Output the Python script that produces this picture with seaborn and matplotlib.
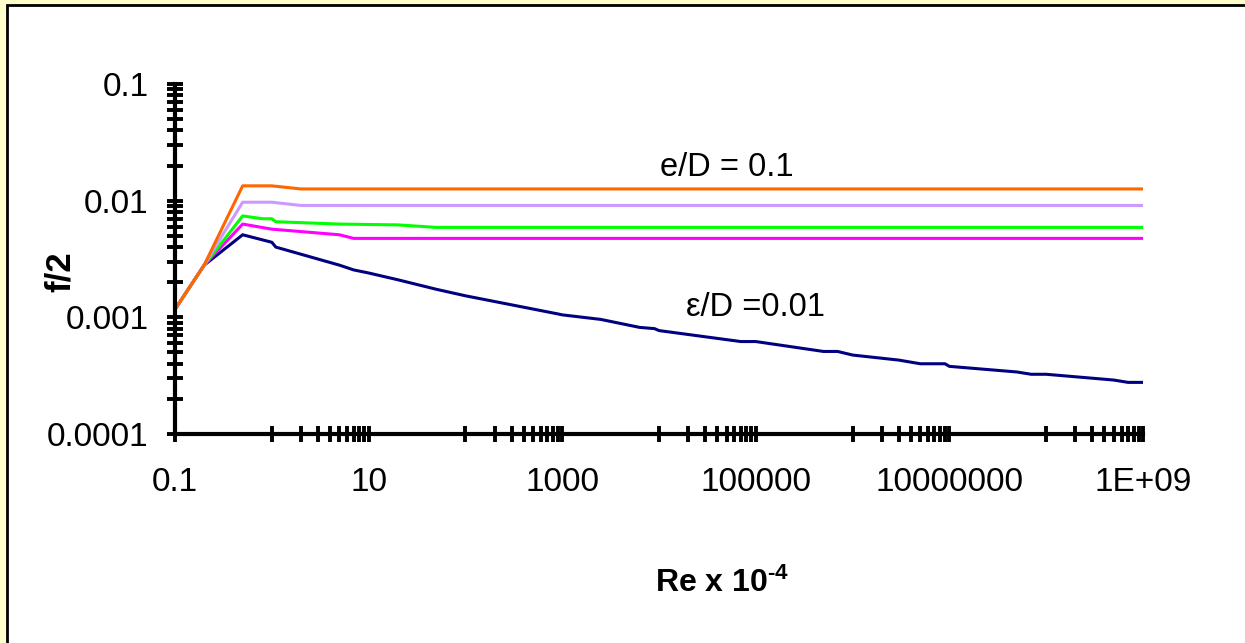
import numpy as np
import pandas as pd
import matplotlib
matplotlib.use("Agg")
import matplotlib.pyplot as plt
import seaborn as sns
from matplotlib.patches import Rectangle
from matplotlib.ticker import FixedLocator, FixedFormatter, NullFormatter

# ---------------- data ----------------
orange_x = [0.1, 0.2, 0.5, 1, 2, 1e9]
orange_y = [0.00117, 0.0028, 0.0134, 0.0134, 0.0126, 0.0126]

lavender_x = [0.1, 0.2, 0.5, 1, 2, 1e9]
lavender_y = [0.00117, 0.0028, 0.0097, 0.0097, 0.0091, 0.0091]

green_x = [0.1, 0.2, 0.5, 0.8, 1, 1.1, 5, 20, 50, 1e9]
green_y = [0.00117, 0.0028, 0.0074, 0.0070, 0.0070, 0.0066, 0.0063, 0.0062, 0.0059, 0.0059]

magenta_x = [0.1, 0.2, 0.5, 1, 5, 7, 1e9]
magenta_y = [0.00117, 0.0028, 0.0063, 0.0057, 0.0051, 0.00475, 0.00475]

navy_x = [0.1, 0.2, 0.5, 1, 1.1, 5, 7, 10, 20, 50, 100, 900, 1000, 2500, 6300,
          9000, 1e4, 7e4, 1e5, 5e5, 7e5, 1e6, 3e6, 5e6, 9e6, 1e7, 5e7, 7e7, 1e8,
          5e8, 7e8, 1e9]
navy_y = [0.00117, 0.0028, 0.0051, 0.0044, 0.0040, 0.0028, 0.00255, 0.0024, 0.0021,
          0.00174, 0.00153, 0.00107, 0.00105, 0.00096, 0.00082, 0.00080, 0.00077,
          0.00062, 0.00062, 0.00051, 0.00051, 0.000475, 0.00043, 0.00040, 0.00040,
          0.00038, 0.00034, 0.000325, 0.000325, 0.00029, 0.000277, 0.000277]

series_names = ["navy", "magenta", "green", "lavender", "orange"]
series_colors = ["#000080", "#FF00FF", "#00FF00", "#CC99FF", "#FF6600"]

x_ticks = [0.1, 10, 1000, 1e5, 1e7, 1e9]
x_tick_labels = ["0.1", "10", "1000", "100000", "10000000", "1E+09"]
y_ticks = [1e-4, 1e-3, 1e-2, 1e-1]
y_tick_labels = ["0.0001", "0.001", "0.01", "0.1"]

x_label = r"Re x 10$^{\text{-4}}$"
y_label = "f/2"
annot_top = "e/D = 0.1"
annot_bottom = "\u03b5/D =0.01"

# ---------------- build frame ----------------
xs = {"navy": navy_x, "magenta": magenta_x, "green": green_x,
      "lavender": lavender_x, "orange": orange_x}
ys = {"navy": navy_y, "magenta": magenta_y, "green": green_y,
      "lavender": lavender_y, "orange": orange_y}
rows = []
for name in series_names:
    for i, (xv, yv) in enumerate(zip(xs[name], ys[name])):
        rows.append({"series": name, "order": i, "Re": xv, "f2": yv})
df = pd.DataFrame(rows)

# ---------------- style ----------------
sns.set_theme(style="white")
plt.rcParams["font.family"] = ["Liberation Sans", "DejaVu Sans"]
plt.rcParams["mathtext.fontset"] = "custom"
plt.rcParams["mathtext.rm"] = "Liberation Sans:bold"
plt.rcParams["mathtext.bf"] = "Liberation Sans:bold"
plt.rcParams["mathtext.it"] = "Liberation Sans:bold"

fig = plt.figure(figsize=(12.45, 6.43), dpi=100, facecolor="#FFFFCC")
# white chart area with black border (extends beyond right/bottom edges)
fig.patches.append(Rectangle((7 / 1245, -0.2), 1.5, 1.2 - 5 / 643,
                             transform=fig.transFigure, facecolor="white",
                             edgecolor="black", linewidth=2.0, zorder=-10))

L, R, B, T = 175 / 1245, 1143 / 1245, 1 - 434 / 643, 1 - 84 / 643
ax = fig.add_axes([L, B, R - L, T - B])
ax.set_zorder(5)
ax.set_facecolor("none")

sns.lineplot(data=df, x="Re", y="f2", hue="series", hue_order=series_names,
             palette=dict(zip(series_names, series_colors)), units="series",
             estimator=None, sort=False, legend=False, linewidth=2.2, ax=ax)

ax.set_xscale("log")
ax.set_yscale("log")
ax.set_xlim(0.1, 1e9)
ax.set_ylim(1e-4, 0.1)

# ticks
ax.xaxis.set_major_locator(FixedLocator(x_ticks))
ax.xaxis.set_major_formatter(FixedFormatter(x_tick_labels))
x_minor = [m * 10.0 ** e for e in range(0, 9, 2) for m in range(1, 10)]
ax.xaxis.set_minor_locator(FixedLocator(x_minor))
ax.xaxis.set_minor_formatter(NullFormatter())

ax.yaxis.set_major_locator(FixedLocator(y_ticks))
ax.yaxis.set_major_formatter(FixedFormatter(y_tick_labels))
y_minor = [m * 10.0 ** e for e in range(-4, -1) for m in range(2, 10)]
ax.yaxis.set_minor_locator(FixedLocator(y_minor))
ax.yaxis.set_minor_formatter(NullFormatter())

ax.tick_params(axis="both", which="both", direction="inout", length=12,
               width=2.8, color="black", bottom=True, left=True,
               top=False, right=False)
ax.tick_params(axis="x", which="major", pad=18, labelsize=24, labelcolor="black")
ax.tick_params(axis="y", which="major", pad=13, labelsize=24, labelcolor="black")

for s in ["top", "right"]:
    ax.spines[s].set_visible(False)
for s in ["left", "bottom"]:
    ax.spines[s].set_linewidth(3)
    ax.spines[s].set_color("black")
    ax.spines[s].set_zorder(3)

ax.set_xlabel(x_label, fontsize=23, fontweight="bold", color="black", va="center")
ax.xaxis.set_label_coords((722 - 175) / 968, (434 - 583) / 350)
ax.set_ylabel(y_label, fontsize=25, fontweight="bold", color="black", va="center")
ax.yaxis.set_label_coords((60 - 175) / 968, (434 - 272) / 350)

ax.text((727 - 175) / 968, (434 - 167) / 350, annot_top, transform=ax.transAxes,
        ha="center", va="center", fontsize=23.5, color="black")
ax.text((755 - 175) / 968, (434 - 307) / 350, annot_bottom, transform=ax.transAxes,
        ha="center", va="center", fontsize=23.5, color="black")

fig.savefig("out.png", dpi=100, facecolor=fig.get_facecolor())
